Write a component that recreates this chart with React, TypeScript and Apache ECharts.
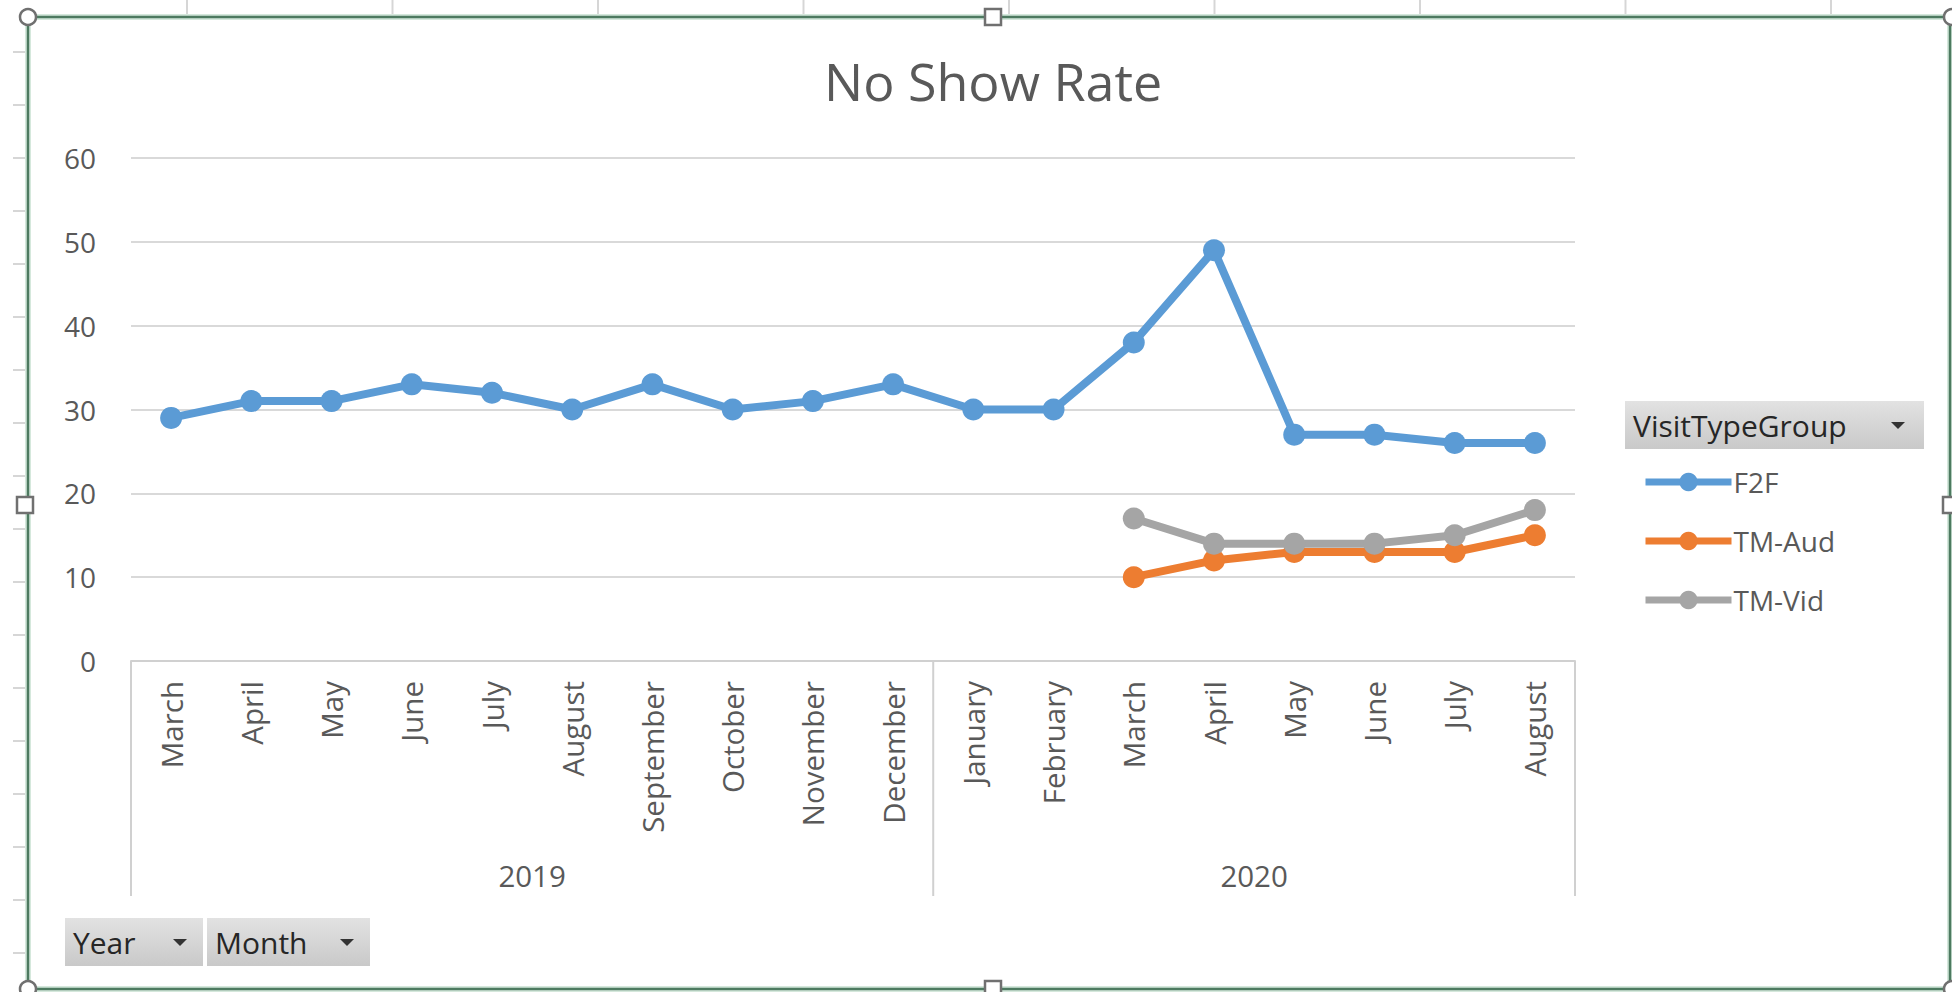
import React, { useEffect, useRef } from "react";
import * as echarts from "echarts";

const months2019 = ["March", "April", "May", "June", "July", "August", "September", "October", "November", "December"];
const months2020 = ["January", "February", "March", "April", "May", "June", "July", "August"];
const years = ["2019", "2020"];
const seriesNames = ["F2F", "TM-Aud", "TM-Vid"];
const f2f = [29, 31, 31, 33, 32, 30, 33, 30, 31, 33, 30, 30, 38, 49, 27, 27, 26, 26];
const tmAud = [null, null, null, null, null, null, null, null, null, null, null, null, 10, 12, 13, 13, 13, 15];
const tmVid = [null, null, null, null, null, null, null, null, null, null, null, null, 17, 14, 14, 14, 15, 18];
const yTicks = [0, 10, 20, 30, 40, 50, 60];
const colors = ["#5B9BD5", "#ED7D31", "#A5A5A5"];

const FONT = "'Open Sans', 'Noto Sans', sans-serif";
const TXT = "#595959";

export default function App() {
  const ref = useRef<HTMLDivElement>(null);

  useEffect(() => {
    if (!ref.current) return;
    const chart = echarts.init(ref.current, null, { renderer: "svg" });
    const categories = [
      ...months2019.map((m) => years[0] + "|" + m),
      ...months2020.map((m) => years[1] + "|" + m),
    ];
    const values = [f2f, tmAud, tmVid];
    chart.setOption({
      animation: false,
      backgroundColor: "#ffffff",
      title: {
        text: "No Show Rate",
        left: 824,
        top: 54,
        padding: 0,
        textStyle: { fontFamily: FONT, fontSize: 52, fontWeight: "normal", color: TXT },
      },
      grid: { left: 131, right: 377, top: 158, bottom: 331, containLabel: false },
      legend: {
        data: seriesNames,
        orient: "vertical",
        left: 1637,
        top: 463,
        itemWidth: 86,
        itemHeight: 23,
        itemGap: 31,
        lineStyle: { width: 7 },
        textStyle: { fontFamily: FONT, fontSize: 28, color: TXT, padding: [0, 0, 0, -3] },
      },
      xAxis: {
        type: "category",
        data: categories,
        boundaryGap: true,
        axisLine: { lineStyle: { color: "#d0d0d0", width: 2 } },
        axisTick: { show: false },
        axisLabel: {
          rotate: 90,
          margin: 20,
          interval: 0,
          fontFamily: FONT,
          fontSize: 29.5,
          color: TXT,
          formatter: (v: string) => v.split("|")[1],
        },
      },
      yAxis: {
        type: "value",
        min: yTicks[0],
        max: yTicks[yTicks.length - 1],
        interval: 10,
        axisLine: { show: false },
        axisTick: { show: false },
        axisLabel: { margin: 35, fontFamily: FONT, fontSize: 28, color: TXT },
        splitLine: { lineStyle: { color: "#d9d9d9", width: 2 } },
      },
      series: seriesNames.map((name, i) => ({
        name,
        type: "line",
        data: values[i],
        symbol: "circle",
        symbolSize: 22,
        showSymbol: true,
        lineStyle: { width: 8, color: colors[i] },
        itemStyle: { color: colors[i] },
      })),
    });

    const px = (i: number) => chart.convertToPixel({ xAxisIndex: 0 }, i) as number;
    const axisY = chart.convertToPixel({ yAxisIndex: 0 }, 0) as number;
    const bw = px(1) - px(0);
    const n = categories.length;
    const b0 = px(0) - bw / 2;
    const b1 = px(months2019.length) - bw / 2;
    const b2 = px(n - 1) + bw / 2;
    const sepBottom = axisY + 235;
    const yearY = axisY + 214;

    const graphics: any[] = [];
    // Excel sheet background ticks
    for (let x = 187; x < 1952; x += 205.5) {
      graphics.push({ type: "line", shape: { x1: x, y1: 0, x2: x, y2: 15 }, style: { stroke: "#d6d6d6", lineWidth: 2 } });
    }
    for (let y = 52; y < 992; y += 53) {
      graphics.push({ type: "line", shape: { x1: 13, y1: y, x2: 27, y2: y }, style: { stroke: "#d6d6d6", lineWidth: 2 } });
    }
    // frame
    const frameStyleOuter = { stroke: "#d5e8dc", lineWidth: 6 };
    const frameStyle = { stroke: "#4d7a60", lineWidth: 2.5 };
    [frameStyleOuter, frameStyle].forEach((st) => {
      graphics.push({ type: "line", shape: { x1: 28, y1: 17, x2: 1952, y2: 17 }, style: st });
      graphics.push({ type: "line", shape: { x1: 28, y1: 989, x2: 1952, y2: 989 }, style: st });
      graphics.push({ type: "line", shape: { x1: 28, y1: 17, x2: 28, y2: 989 }, style: st });
      graphics.push({ type: "line", shape: { x1: 1950, y1: 17, x2: 1950, y2: 989 }, style: st });
    });
    const handleStyle = { fill: "#ffffff", stroke: "#707070", lineWidth: 2.5 };
    [[28, 17], [28, 989], [1952, 17], [1952, 989]].forEach(([cx, cy]) =>
      graphics.push({ type: "circle", shape: { cx, cy, r: 8 }, style: handleStyle, z: 10 })
    );
    [[993, 17], [993, 989], [25, 505], [1951, 505]].forEach(([cx, cy]) =>
      graphics.push({ type: "rect", shape: { x: cx - 8, y: cy - 8, width: 16, height: 16 }, style: handleStyle, z: 10 })
    );
    // multi-level category separators
    [b0, b1, b2].forEach((x) =>
      graphics.push({ type: "line", shape: { x1: x, y1: axisY, x2: x, y2: sepBottom }, style: { stroke: "#d0d0d0", lineWidth: 2 } })
    );
    graphics.push({
      type: "text",
      x: (b0 + b1) / 2,
      y: yearY,
      style: { text: years[0], fontFamily: FONT, fontSize: 29.5, fill: TXT, textAlign: "center", textVerticalAlign: "middle" },
    });
    graphics.push({
      type: "text",
      x: (b1 + b2) / 2,
      y: yearY,
      style: { text: years[1], fontFamily: FONT, fontSize: 29.5, fill: TXT, textAlign: "center", textVerticalAlign: "middle" },
    });
    // pivot field buttons
    const btnFill = new echarts.graphic.LinearGradient(0, 0, 0, 1, [
      { offset: 0, color: "#e2e2e2" },
      { offset: 1, color: "#c9c9c9" },
    ]);
    const button = (x: number, y: number, w: number, h: number, label: string, triX: number, fs: number) => {
      graphics.push({ type: "rect", shape: { x, y, width: w, height: h }, style: { fill: btnFill } });
      graphics.push({
        type: "text",
        x: x + 8,
        y: y + h / 2,
        style: { text: label, fontFamily: FONT, fontSize: fs, fill: "#262626", textVerticalAlign: "middle" },
      });
      graphics.push({
        type: "polygon",
        shape: { points: [[triX - 7, y + h / 2 - 3], [triX + 7, y + h / 2 - 3], [triX, y + h / 2 + 4]] },
        style: { fill: "#333333" },
      });
    };
    button(65, 918, 138, 48, "Year", 180, 30);
    button(207, 918, 163, 48, "Month", 347, 30);
    button(1625, 401, 299, 48, "VisitTypeGroup", 1898, 30);

    chart.setOption({ graphic: graphics });

    return () => chart.dispose();
  }, []);

  return (
    <div
      ref={ref}
      style={{ position: "fixed", left: 0, top: 0, width: 1952, height: 992, background: "#ffffff" }}
    />
  );
}
